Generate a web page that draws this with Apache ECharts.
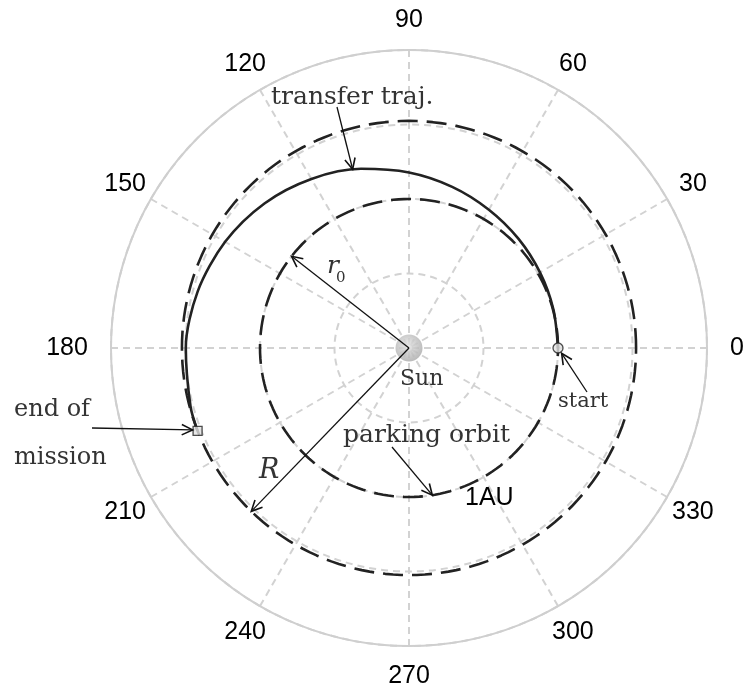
<!DOCTYPE html>
<html><head><meta charset="utf-8">
<script src="https://cdn.jsdelivr.net/npm/echarts@6/dist/echarts.min.js"></script>
<style>html,body{margin:0;padding:0;background:#fff}#chart{width:748px;height:693px}</style>
</head><body><div id="chart"></div>
<script>
// Angle tick labels (degrees) and the radius (AU) at which they sit
const angleTicks = [0, 30, 60, 90, 120, 150, 180, 210, 240, 270, 300, 330];
const tickLabelRadius = 2.2;
const sideLabelRadius = 2.155;
// Orbit radii in AU
const parkingRadius = 1.0;
const targetRadius = 1.524;
// Transfer trajectory: polar angle (deg) and heliocentric radius (AU)
const transferAngles = [0, 15, 30, 45, 60, 75, 90, 105, 120, 135, 150, 165, 180, 195, 201.4];
const transferRadii  = [1.000, 1.003, 1.015, 1.038, 1.072, 1.120, 1.178, 1.245, 1.310, 1.372, 1.425, 1.468, 1.498, 1.518, 1.524];
// Departure and arrival points [r, angle]
const startPoint = [1.0, 0];
const endPoint = [1.524, 201.4];
const sunPoint = [0, 0];

function orbit(r) {
  const pts = [];
  for (let a = 0; a <= 360; a += 2) pts.push([r, a]);
  return pts;
}
const transferData = transferAngles.map((a, i) => [transferRadii[i], a]);

const chart = echarts.init(document.getElementById('chart'), null, { renderer: 'canvas' });
const dark = '#222';
const serif = '"DejaVu Serif", serif';
const sans = '"Liberation Sans", Arial, sans-serif';

chart.setOption({
  animation: false,
  backgroundColor: '#fff',
  polar: { center: [409, 348], radius: 298 },
  angleAxis: {
    type: 'value', min: 0, max: 360, interval: 30,
    startAngle: 0, clockwise: false,
    axisLine: { show: true, lineStyle: { color: '#cfcfcf', width: 2 } },
    axisTick: { show: false },
    axisLabel: { show: false },
    splitLine: { show: true, lineStyle: { color: '#d2d2d2', width: 2, type: [7, 5] } }
  },
  radiusAxis: {
    type: 'value', min: 0, max: 2, interval: 0.5,
    axisLine: { show: false }, axisTick: { show: false }, axisLabel: { show: false },
    splitLine: { show: true, lineStyle: { color: '#d2d2d2', width: 2, type: [7, 5] } }
  },
  series: [
    { type: 'line', coordinateSystem: 'polar', data: orbit(parkingRadius), showSymbol: false,
      lineStyle: { color: dark, width: 2.6, type: [20, 9] }, z: 3 },
    { type: 'line', coordinateSystem: 'polar', data: orbit(targetRadius), showSymbol: false,
      lineStyle: { color: dark, width: 2.6, type: [20, 9] }, z: 3 },
    { type: 'line', coordinateSystem: 'polar', data: transferData, showSymbol: false, smooth: 0.3,
      lineStyle: { color: dark, width: 2.6 }, z: 4 },
    { type: 'scatter', coordinateSystem: 'polar', data: [sunPoint], symbol: 'circle', symbolSize: 27,
      itemStyle: { color: { type: 'radial', x: 0.45, y: 0.4, r: 0.6,
        colorStops: [{ offset: 0, color: '#e6e6e6' }, { offset: 1, color: '#a9a9a9' }] } }, z: 5 },
    { type: 'scatter', coordinateSystem: 'polar', data: [startPoint], symbol: 'circle', symbolSize: 10,
      itemStyle: { color: '#e2e2e2', borderColor: dark, borderWidth: 1.3 }, z: 6 },
    { type: 'scatter', coordinateSystem: 'polar', data: [endPoint], symbol: 'rect', symbolSize: 9,
      itemStyle: { color: '#e2e2e2', borderColor: dark, borderWidth: 1.3 }, z: 6 }
  ]
});

// Annotations: arrows and labels
const px = p => chart.convertToPixel({ seriesIndex: 2 }, p);

function arrow(from, to) {
  const dx = to[0] - from[0], dy = to[1] - from[1];
  const ang = Math.atan2(dy, dx), len = 12, spread = 0.45;
  const h1 = [to[0] - len * Math.cos(ang - spread), to[1] - len * Math.sin(ang - spread)];
  const h2 = [to[0] - len * Math.cos(ang + spread), to[1] - len * Math.sin(ang + spread)];
  return [
    { type: 'line', shape: { x1: from[0], y1: from[1], x2: to[0], y2: to[1] },
      style: { stroke: '#111', lineWidth: 1.3, fill: null }, z: 10 },
    { type: 'polyline', shape: { points: [h1, to, h2] },
      style: { stroke: '#111', lineWidth: 1.6, fill: null }, z: 10 }
  ];
}
// text placed by its top edge
function label(text, x, y, font, fill) {
  return { type: 'text', x, y, z: 10,
    style: { text, font, fill: fill || '#333', align: 'left', verticalAlign: 'top' } };
}

// Angle tick labels: centred on a ring, except 0 and 180 which hug the ring by their inner edge
const tickLabels = angleTicks.map(a => {
  let align = 'center', r = tickLabelRadius;
  if (a === 0) { align = 'left'; r = sideLabelRadius; }
  if (a === 180) { align = 'right'; r = sideLabelRadius; }
  const p = px([r, a]);
  return { type: 'text', x: p[0], y: p[1], z: 10,
    style: { text: String(a), font: '25px ' + sans, fill: '#000', align, verticalAlign: 'middle' } };
});

const center = px(sunPoint);
const endPx = px(endPoint);
const graphics = [].concat(
  tickLabels,
  arrow(center, px([parkingRadius, 142])),
  arrow(center, px([targetRadius, 226])),
  arrow([337, 107], px([1.258, 107.5])),
  arrow([392, 447], px([parkingRadius, 279])),
  arrow([587, 392], px([1.025, 358])),
  arrow([92, 428], [endPx[0] - 5, endPx[1] - 1]),
  [
    label('transfer traj.', 271, 85, '25px ' + serif),
    label('end of', 14, 398, '24px ' + serif),
    label('mission', 14, 446, '24px ' + serif),
    label('parking orbit', 343, 423, '25px ' + serif),
    label('start', 558, 391, '21px ' + serif),
    label('Sun', 400, 368, '22px ' + serif),
    label('r', 327, 254, 'italic 25px ' + serif),
    label('0', 336, 271, '15px ' + serif),
    label('R', 259, 457, 'italic 27px ' + serif),
    label('1AU', 465, 486, '25px ' + sans, '#000')
  ]
);
chart.setOption({ graphic: graphics });
</script>
</body></html>
